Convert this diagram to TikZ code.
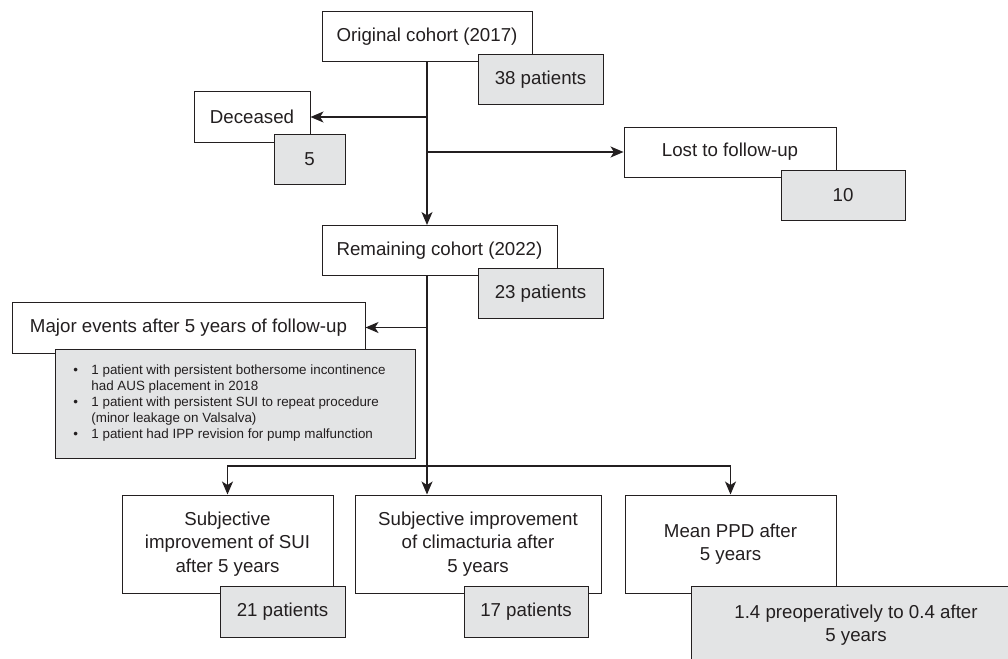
\documentclass[tikz,border=0pt]{standalone}
\usepackage{fontspec}
\setmainfont{Liberation Sans}
\usetikzlibrary{arrows.meta,positioning}

\definecolor{boxgrey}{RGB}{227,228,229}
\definecolor{inkgrey}{RGB}{35,31,32}

\tikzset{
  flowbox/.style={draw=inkgrey, fill=white, line width=1pt, minimum height=50pt,
    inner sep=2pt, align=center, text=inkgrey, font=\fontsize{18.7}{23.5}\selectfont},
  countbox/.style={flowbox, fill=boxgrey, anchor=north west},
  flowarrow/.style={-{Stealth[length=13pt,width=11pt,inset=3.5pt]}, line width=1.2pt, draw=inkgrey},
}

\begin{document}
\begin{tikzpicture}[x=1pt, y=-1pt]
	\clip (0,0) rectangle (1008,658);
	\fill[white] (0,0) rectangle (1008,658);

	% cohort boxes
	\node [flowbox, minimum width=210pt] (orig) at (427,37) {Original cohort (2017)};
	\node [flowbox, minimum width=116pt] (dec) at (252,117) {Deceased};
	\node [flowbox, minimum width=212pt] (lost) at (730,152) {Lost to follow-up};
	\node [flowbox, minimum width=235pt] (rem) at (439.5,250.5) {Remaining cohort (2022)};
	\node [flowbox, minimum width=353pt, minimum height=51pt] (major) at (188.5,327.5)
		{Major events after 5 years of follow-up};

	\node [countbox, minimum width=125pt] (n38) at ([xshift=-55pt, yshift=8pt]orig.south east) {38 patients};
	\node [countbox, minimum width=71pt] (n5) at ([xshift=-37pt, yshift=9pt]dec.south east) {5};
	\node [countbox, minimum width=124pt] (n10) at ([xshift=-56pt, yshift=8pt]lost.south east) {10};
	\node [countbox, minimum width=125pt] (n23) at ([xshift=-80pt, yshift=8pt]rem.south east) {23 patients};

	\node [countbox, minimum width=360pt, minimum height=109pt,
		font=\fontsize{13.4}{16}\selectfont] (events) at ([xshift=43pt, yshift=5pt]major.south west)
		{\hspace*{-11pt}\begin{tabular}{@{}p{18pt}@{}l@{}}
		\textbullet & 1 patient with persistent bothersome incontinence\\
		& had AUS placement in 2018\\
		\textbullet & 1 patient with persistent SUI to repeat procedure\\
		& (minor leakage on Valsalva)\\
		\textbullet & 1 patient had IPP revision for pump malfunction
		\end{tabular}};

	% outcomes
	\node [flowbox, minimum width=211pt, minimum height=98pt] (sui) at (227.5,544)
		{Subjective\\improvement of SUI\\after 5 years};
	\node [flowbox, minimum width=246pt, minimum height=98pt] (clim) at (478,544)
		{Subjective improvement\\of climacturia after\\5 years};
	\node [flowbox, minimum width=211pt, minimum height=98pt] (ppd) at (730.5,544)
		{Mean PPD after\\5 years};

	\node [countbox, minimum width=125pt, minimum height=51pt] (n21) at ([xshift=-114pt, yshift=8pt]sui.south east) {21 patients};
	\node [countbox, minimum width=124pt, minimum height=51pt] (n17) at ([xshift=-138pt, yshift=8pt]clim.south east) {17 patients};
	\node [countbox, minimum width=330pt, minimum height=78pt] (nppd) at ([xshift=-146pt, yshift=8pt]ppd.south east)
		{1.4 preoperatively to 0.4 after\\5 years};

	\draw[flowarrow] (orig.south) -- (orig.south |- rem.north);
	\draw[flowarrow] (orig.south |- dec.east) -- (dec.east);
	\draw[flowarrow] (orig.south |- lost.west) -- (lost.west);

	\coordinate (split) at (orig.south |- 0,466);
	\draw[flowarrow] (orig.south |- rem.south) -- (orig.south |- clim.north);
	\draw[flowarrow] (orig.south |- major.east) -- (major.east);
	\draw[flowarrow] (split) -| (sui.north);
	\draw[flowarrow] (split) -| (ppd.north);

\end{tikzpicture}
\end{document}
